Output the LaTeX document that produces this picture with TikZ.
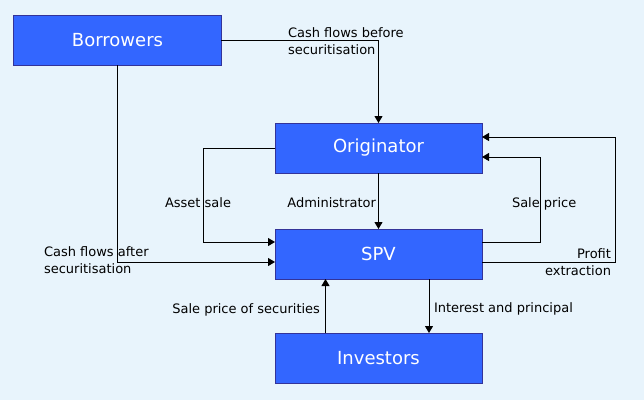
\documentclass[tikz,border=0pt]{standalone}
\usepackage{fontspec}
\setmainfont{DejaVu Sans}
\usetikzlibrary{arrows.meta,calc}
\definecolor{bg}{HTML}{E8F4FC}
\definecolor{boxfill}{HTML}{3366FF}
\definecolor{boxline}{HTML}{333399}
\tikzset{
  box/.style={draw=boxline, fill=boxfill, line width=1bp, minimum width=207bp, minimum height=50bp,
    inner sep=0pt, outer sep=0pt, text=white, font=\fontsize{18bp}{22bp}\selectfont},
  conn/.style={draw=black, line width=1bp},
  arr/.style={conn, -{Triangle[length=7bp,width=8bp]}},
  lbl/.style={inner sep=0pt, outer sep=0pt, font=\fontsize{13bp}{17bp}\selectfont}
}
\begin{document}
\begin{tikzpicture}[x=1bp,y=-1bp]
\useasboundingbox[fill=bg] (0,0) rectangle (644,400);
\node[box] (bor) at (117.5,40) {Borrowers};
\node[box] (ori) at (378.5,148) {Originator};
\node[box] (spv) at (378.5,254) {SPV};
\node[box] (inv) at (378.5,358) {Investors};

\draw[arr] (bor.east) -| (ori.north);
\draw[arr] (bor.south) |- ($(spv.west)+(0,8)$);
\draw[arr] (ori.west) -- ++(-72,0) |- ($(spv.west)+(0,-12)$);
\draw[arr] (ori.south) -- (spv.north);
\draw[arr] ($(spv.east)+(0,-12)$) -- ++(58,0) |- ($(ori.east)+(0,9)$);
\draw[arr] ($(spv.east)+(0,8)$) -- ++(133,0) |- ($(ori.east)+(0,-11)$);
\draw[arr] ($(inv.north)+(-53,0)$) -- ($(spv.south)+(-53,0)$);
\draw[arr] ($(spv.south)+(50.5,0)$) -- ($(inv.north)+(50.5,0)$);

\node[lbl, align=left, anchor=north west] (l1) at (288,28) {Cash flows before\\securitisation};
\node[lbl, align=left, anchor=north west] (l2) at (44,247) {Cash flows after\\securitisation};
\node[lbl, anchor=base west] (l3) at (165,207) {Asset sale};
\node[lbl, anchor=base east] (l4) at (376,207) {Administrator};
\node[lbl, anchor=base west] (l5) at (512,207) {Sale price};
\node[lbl, align=right, anchor=north east] (l6) at (611,249) {Profit\\extraction};
\node[lbl, anchor=base east] (l7) at (320,313) {Sale price of securities};
\node[lbl, anchor=base west] (l8) at (434,312) {Interest and principal};
\end{tikzpicture}
\end{document}
